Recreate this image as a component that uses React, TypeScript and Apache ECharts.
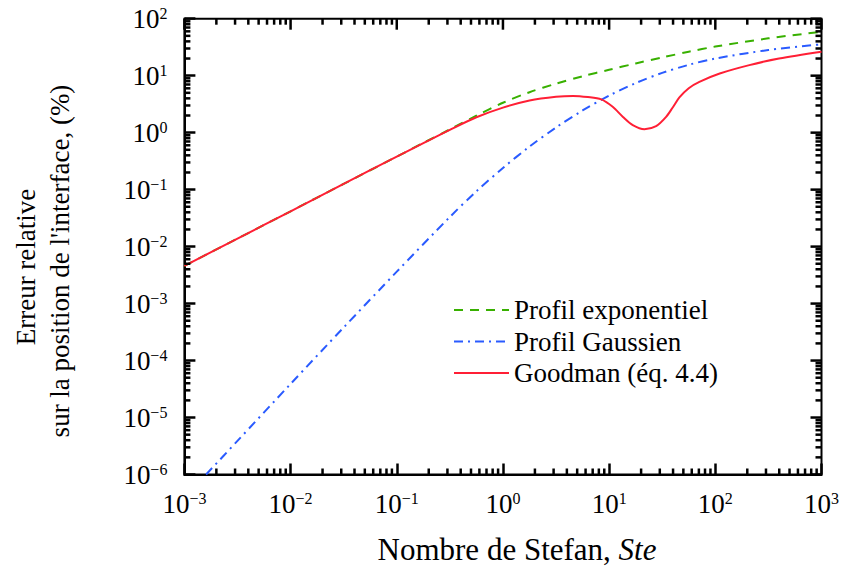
import React, { useEffect, useRef } from "react";
import * as echarts from "echarts";

// Goodman (éq. 4.4)
const goodmanX = [0.001, 0.00316, 0.01, 0.0316, 0.1, 0.178, 0.316, 0.562, 1, 1.78, 3.16, 4.57, 6.31, 8.43, 10.8, 13.5, 16.7, 21.5, 27.7, 34.4, 39.7, 45.9, 56.2, 70.8, 110, 209, 398, 1000];
const goodmanY = [0.0046, 0.0138, 0.0417, 0.126, 0.38, 0.655, 1.12, 1.86, 2.75, 3.67, 4.27, 4.42, 4.22, 3.83, 2.84, 1.89, 1.36, 1.15, 1.30, 1.89, 2.77, 4.15, 6.03, 7.78, 10.9, 15.3, 20.0, 26.3];

// Profil exponentiel
const expoX = [0.001, 0.00316, 0.01, 0.0316, 0.1, 0.178, 0.316, 0.562, 1, 1.78, 3.16, 5.62, 10, 17.8, 31.6, 56.2, 100, 316, 1000];
const expoY = [0.0046, 0.0138, 0.0417, 0.126, 0.38, 0.661, 1.14, 1.98, 3.35, 5.13, 7.24, 9.77, 12.7, 16.4, 20.9, 26.3, 32.4, 45.2, 58.9];

// Profil Gaussien
const gaussX = [0.0016, 0.00316, 0.01, 0.0316, 0.1, 0.316, 0.562, 1, 1.78, 3.16, 5.62, 10, 17.8, 31.6, 56.2, 100, 316, 1000];
const gaussY = [1e-6, 3.89e-6, 3.89e-5, 3.8e-4, 3.63e-3, 0.0331, 0.0933, 0.24, 0.569, 1.23, 2.45, 4.47, 7.41, 11.2, 15.5, 20.0, 28.2, 35.5];

const seriesNames = ["Profil exponentiel", "Profil Gaussien", "Goodman (éq. 4.4)"];
const xMin = 0.001, xMax = 1000, yMin = 1e-6, yMax = 100;
const minorMultipliers = [2, 3, 4, 5, 6, 7, 8, 9];
const xDecades = [-3, -2, -1, 0, 1, 2, 3];
const yDecades = [-6, -5, -4, -3, -2, -1, 0, 1, 2];

const FONT = "Liberation Serif";
const GREEN = "#38b000";
const BLUE = "#2a5bff";
const RED = "#ff1f35";

const pair = (xs: number[], ys: number[]) => xs.map((x, i) => [x, ys[i]]);

const labelFmt = (v: number) => {
  const e = Math.round(Math.log10(v));
  return `{b|10}{e|${e < 0 ? "\u2212" + -e : e}}`;
};

const rich = {
  b: { fontSize: 27, lineHeight: 27, fontFamily: FONT, color: "#000" },
  e: { fontSize: 16, lineHeight: 16, verticalAlign: "top", fontFamily: FONT, color: "#000" },
};

export default function App() {
  const ref = useRef<HTMLDivElement>(null);
  useEffect(() => {
    if (!ref.current) return;
    const chart = echarts.init(ref.current, undefined, { renderer: "svg" });

    const texts: any[] = [
      {
        type: "text",
        x: 26,
        y: 267,
        rotation: Math.PI / 2,
        style: { text: "Erreur relative", fontFamily: FONT, fontSize: 27, fill: "#000", textAlign: "center", textVerticalAlign: "middle" },
      },
      {
        type: "text",
        x: 60,
        y: 261,
        rotation: Math.PI / 2,
        style: { text: "sur la position de l'interface, (%)", fontFamily: FONT, fontSize: 27, fill: "#000", textAlign: "center", textVerticalAlign: "middle" },
      },
      {
        type: "text",
        x: 517,
        y: 549,
        style: {
          text: "{n|Nombre de Stefan, }{i|Ste}",
          rich: {
            n: { fontFamily: FONT, fontSize: 31, fill: "#000" },
            i: { fontFamily: FONT, fontSize: 31, fontStyle: "italic", fill: "#000" },
          },
          textAlign: "center",
          textVerticalAlign: "middle",
        },
      },
    ];

    const option: any = {
      animation: false,
      grid: { left: 184.4, top: 18.7, right: 20, bottom: 95.5, show: true, borderColor: "#000", borderWidth: 2, backgroundColor: "transparent" },
      legend: {
        orient: "vertical",
        left: 453,
        top: 296,
        padding: 0,
        itemWidth: 55,
        itemHeight: 14,
        itemGap: 3.5,
        data: seriesNames,
        itemStyle: { opacity: 0 },
        textStyle: { fontFamily: FONT, fontSize: 27, lineHeight: 28, color: "#000" },
        selectedMode: false,
      },
      xAxis: {
        type: "log",
        min: xMin,
        max: xMax,
        axisLine: { show: true, onZero: false, lineStyle: { color: "#000", width: 2 } },
        axisTick: { show: true, inside: true, length: 11, lineStyle: { color: "#000", width: 2.5 } },
        splitLine: { show: false },
        axisLabel: { show: true, formatter: labelFmt, rich, margin: 16, fontFamily: FONT, color: "#000" },
      },
      yAxis: {
        type: "log",
        min: yMin,
        max: yMax,
        axisLine: { show: true, onZero: false, lineStyle: { color: "#000", width: 2 } },
        axisTick: { show: true, inside: true, length: 11, lineStyle: { color: "#000", width: 2.5 } },
        splitLine: { show: false },
        axisLabel: { show: true, formatter: labelFmt, rich, margin: 17, fontFamily: FONT, color: "#000" },
      },
      graphic: texts,
      series: [
        {
          name: seriesNames[0],
          type: "line",
          data: pair(expoX, expoY),
          symbol: "none",
          smooth: 0.3,
          color: GREEN,
          lineStyle: { color: GREEN, width: 2, type: [9, 7] },
        },
        {
          name: seriesNames[1],
          type: "line",
          data: pair(gaussX, gaussY),
          symbol: "none",
          smooth: 0.3,
          color: BLUE,
          lineStyle: { color: BLUE, width: 2, type: [9, 5, 2, 5] },
        },
        {
          name: seriesNames[2],
          type: "line",
          data: pair(goodmanX, goodmanY),
          symbol: "none",
          smooth: 0.3,
          color: RED,
          lineStyle: { color: RED, width: 2 },
        },
      ],
    };
    chart.setOption(option);

    // Minor ticks (all sides) and mirrored major ticks (top, right), placed through the chart's log scales
    const toPx = (p: number[]) => chart.convertToPixel({ gridIndex: 0 } as any, p) as any;
    const ticks: any[] = [];
    const mk = (x1: number, y1: number, x2: number, y2: number) =>
      ticks.push({ type: "line", z: 10, shape: { x1, y1, x2, y2 }, style: { stroke: "#000", lineWidth: 2.5 } });

    const xTick = (v: number, len: number, bottomToo: boolean) => {
      const b = toPx([v, yMin]);
      const t = toPx([v, yMax]);
      if (!b || !t) return;
      if (bottomToo) mk(b[0], b[1], b[0], b[1] - len);
      mk(t[0], t[1], t[0], t[1] + len);
    };
    const yTick = (v: number, len: number, leftToo: boolean) => {
      const l = toPx([xMin, v]);
      const r = toPx([xMax, v]);
      if (!l || !r) return;
      if (leftToo) mk(l[0], l[1], l[0] + len, l[1]);
      mk(r[0], r[1], r[0] - len, r[1]);
    };
    xDecades.forEach((d, i) => {
      const base = Math.pow(10, d);
      xTick(base, 11, false);
      if (i < xDecades.length - 1) minorMultipliers.forEach((m) => xTick(m * base, 6, true));
    });
    yDecades.forEach((d, i) => {
      const base = Math.pow(10, d);
      yTick(base, 11, false);
      if (i < yDecades.length - 1) minorMultipliers.forEach((m) => yTick(m * base, 6, true));
    });

    chart.setOption({ graphic: [...texts, ...ticks] });
    return () => chart.dispose();
  }, []);
  return <div ref={ref} style={{ position: "absolute", left: 0, top: 0, width: 842, height: 570 }} />;
}
